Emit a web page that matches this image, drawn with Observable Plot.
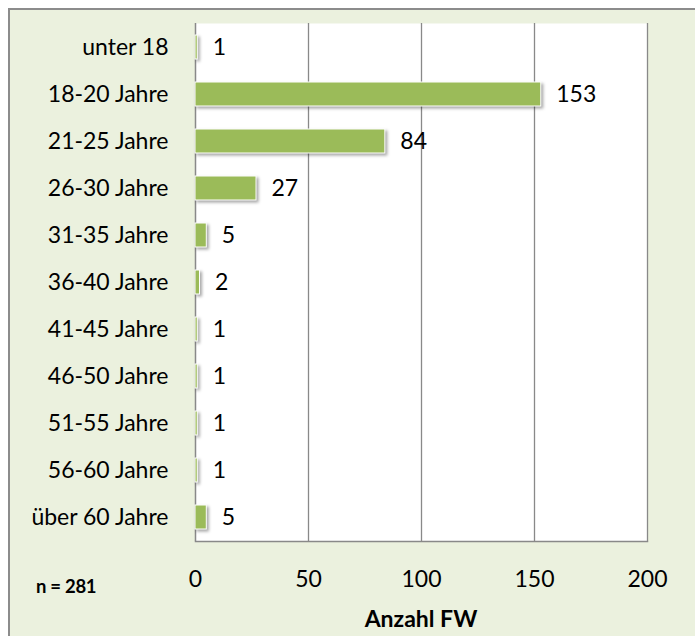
<!DOCTYPE html>
<html>
<head>
<meta charset="utf-8">
<script src="https://cdn.jsdelivr.net/npm/d3@7"></script>
<script src="https://cdn.jsdelivr.net/npm/@observablehq/plot@0.6"></script>
<style>
  html, body { margin: 0; padding: 0; background: #ffffff; }
  #wrap { position: relative; width: 695px; height: 636px; overflow: hidden; font-family: Lato, "Open Sans", sans-serif; }
  #bg { position: absolute; left: 8px; top: 8px; width: 720px; height: 660px; background: #EBF1DE; border: 2px solid #8c8c8c; box-sizing: border-box; }
  #chart { position: absolute; left: 0; top: 0; }
  #n { position: absolute; left: 36px; top: 575px; font-weight: bold; font-size: 18.5px; color: #000; letter-spacing: -0.3px; }
  #xl { position: absolute; left: 195px; width: 452px; top: 604px; text-align: center; font-weight: bold; font-size: 23px; color: #000; }
  g[aria-label="bar"] rect { filter: drop-shadow(2px 2px 1.5px rgba(0,0,0,0.35)); }
</style>
</head>
<body>
<div id="wrap">
  <div id="bg"></div>
  <div id="chart"></div>
  <div id="n">n = 281</div>
  <div id="xl">Anzahl FW</div>
</div>
<script>
const categories = ["unter 18", "18-20 Jahre", "21-25 Jahre", "26-30 Jahre", "31-35 Jahre", "36-40 Jahre", "41-45 Jahre", "46-50 Jahre", "51-55 Jahre", "56-60 Jahre", "über 60 Jahre"];
const values = [1, 153, 84, 27, 5, 2, 1, 1, 1, 1, 5];
const xTicks = [0, 50, 100, 150, 200];

const data = categories.map((c, i) => ({cat: c, value: values[i]}));

const chart = Plot.plot({
  width: 695,
  height: 636,
  marginLeft: 195,
  marginRight: 48,
  marginTop: 23,
  marginBottom: 95,
  style: {background: "transparent", fontFamily: "Lato, 'Open Sans', sans-serif", fontSize: "23px", color: "#000"},
  x: {domain: [0, 200], ticks: xTicks},
  y: {domain: categories, paddingInner: 0.5, paddingOuter: 0.25},
  marks: [
    Plot.frame({fill: "white", stroke: null}),
    Plot.gridX(xTicks.filter(d => d > 0), {stroke: "#898989", strokeOpacity: 1, strokeWidth: 1.3}),
    Plot.ruleX([0], {stroke: "#898989", strokeWidth: 1.5}),
    Plot.frame({anchor: "bottom", stroke: "#898989", strokeWidth: 1.5}),
    Plot.barX(data, {x: "value", y: "cat", fill: "#9BBB59", stroke: "white", strokeWidth: 1}),
    Plot.text(data, {x: "value", y: "cat", text: d => String(d.value), dx: 15, textAnchor: "start", fill: "#000", fontSize: 23}),
    Plot.axisX({ticks: xTicks, tickSize: 0, tickPadding: 29, label: null, fontSize: 23}),
    Plot.axisY({tickSize: 0, tickPadding: 27, label: null, fontSize: 23})
  ]
});
document.getElementById("chart").appendChild(chart);
</script>
</body>
</html>
